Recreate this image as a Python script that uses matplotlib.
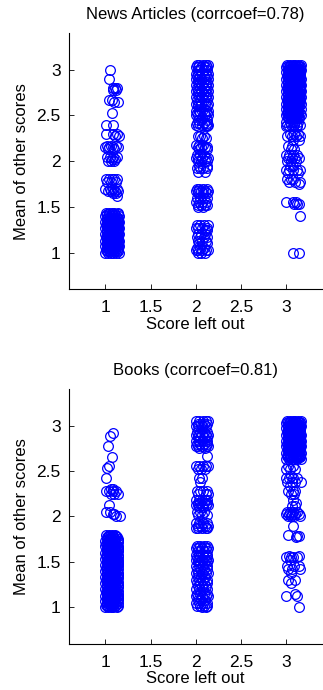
import matplotlib
matplotlib.use('Agg')
import matplotlib.pyplot as plt

plt.rcParams['font.family'] = ['Liberation Sans', 'DejaVu Sans']

# 各パネルのタイトル
titles = ['News Articles (corrcoef=0.78)', 'Books (corrcoef=0.81)']
xticks = [1, 1.5, 2, 2.5, 3]
xtick_labels = ['1', '1.5', '2', '2.5', '3']
yticks = [1, 1.5, 2, 2.5, 3]
ytick_labels = ['1', '1.5', '2', '2.5', '3']

# (mean of other scores, [score left out + jitter, ...])
news_c1 = [
    (3.00, [1.05]), (2.90, [1.04]),
    (2.80, [1.08, 1.11, 1.13]), (2.78, [1.09, 1.12]),
    (2.67, [1.04, 1.07]), (2.65, [1.10, 1.14]), (2.53, [1.07]),
    (2.40, [1.01, 1.09]), (2.30, [1.01, 1.08, 1.13]), (2.27, [1.11, 1.15]),
    (2.17, [1.02, 1.06, 1.12]), (2.15, [1.00, 1.04, 1.08, 1.14]),
    (2.13, [1.03, 1.10]), (2.05, [1.02, 1.05, 1.09, 1.13]),
    (2.02, [1.07, 1.11]), (2.00, [1.03, 1.06, 1.10]),
    (1.80, [1.01, 1.04, 1.07, 1.10, 1.13]), (1.77, [1.02, 1.06, 1.12]),
    (1.70, [1.00, 1.05, 1.08, 1.13]), (1.67, [1.03, 1.06, 1.11, 1.14]),
    (1.65, [1.09, 1.12]), (1.62, [1.13]),
    (1.43, [1.01, 1.04, 1.07, 1.10, 1.14]),
    (1.42, [1.015, 1.045, 1.075, 1.105, 1.135]),
    (1.40, [1.00, 1.03, 1.06, 1.09, 1.12, 1.15]),
    (1.38, [1.015, 1.045, 1.075, 1.105, 1.135]),
    (1.37, [1.02, 1.05, 1.08, 1.11, 1.14]),
    (1.35, [1.015, 1.045, 1.075, 1.105, 1.135]),
    (1.33, [1.00, 1.03, 1.06, 1.09, 1.12, 1.15]),
    (1.32, [1.015, 1.045, 1.075, 1.105, 1.135]),
    (1.30, [1.01, 1.04, 1.08, 1.11, 1.14]),
    (1.28, [1.015, 1.045, 1.075, 1.105, 1.135]),
    (1.27, [1.00, 1.03, 1.06, 1.10, 1.13, 1.15]),
    (1.25, [1.015, 1.045, 1.075, 1.105, 1.135]),
    (1.23, [1.02, 1.05, 1.08, 1.12, 1.14]),
    (1.22, [1.015, 1.045, 1.075, 1.105, 1.135]),
    (1.20, [1.00, 1.03, 1.07, 1.10, 1.13, 1.15]),
    (1.18, [1.015, 1.045, 1.075, 1.105, 1.135]),
    (1.17, [1.01, 1.05, 1.08, 1.11, 1.14]),
    (1.15, [1.015, 1.045, 1.075, 1.105, 1.135]),
    (1.13, [1.00, 1.03, 1.06, 1.09, 1.12, 1.15]),
    (1.12, [1.015, 1.045, 1.075, 1.105, 1.135]),
    (1.10, [1.02, 1.05, 1.08, 1.11, 1.14]),
    (1.08, [1.015, 1.045, 1.075, 1.105, 1.135]),
    (1.07, [1.00, 1.03, 1.07, 1.10, 1.13, 1.15]),
    (1.05, [1.015, 1.045, 1.075, 1.105, 1.135]),
    (1.03, [1.01, 1.04, 1.08, 1.11, 1.14]),
    (1.02, [1.015, 1.045, 1.075, 1.105, 1.135]),
    (1.00, [1.00, 1.03, 1.06, 1.09, 1.12, 1.15]),
]
news_c2 = [
    (3.05, [2.01, 2.04, 2.08, 2.11, 2.14]), (3.03, [2.00, 2.03, 2.06, 2.10, 2.13]),
    (3.00, [2.02, 2.05, 2.09, 2.12]), (2.95, [2.00, 2.03, 2.07, 2.11, 2.14]),
    (2.93, [2.01, 2.05, 2.09, 2.13]), (2.90, [2.00, 2.03, 2.06, 2.10, 2.14]),
    (2.87, [2.02, 2.05, 2.08, 2.12]), (2.83, [2.00, 2.04, 2.07, 2.11, 2.14]),
    (2.80, [2.01, 2.05, 2.09, 2.13]), (2.77, [2.00, 2.03, 2.06, 2.10, 2.14]),
    (2.73, [2.02, 2.05, 2.08, 2.12]), (2.70, [2.00, 2.04, 2.07, 2.11, 2.14]),
    (2.67, [2.01, 2.05, 2.09, 2.13]), (2.63, [2.00, 2.03, 2.06, 2.10, 2.14]),
    (2.60, [2.02, 2.05, 2.12]), (2.55, [2.00, 2.04, 2.07, 2.11, 2.14]),
    (2.53, [2.01, 2.05, 2.09, 2.13]), (2.50, [2.00, 2.03, 2.10, 2.14]),
    (2.45, [2.02, 2.06, 2.12]), (2.42, [2.01, 2.04, 2.09, 2.13]),
    (2.40, [2.00, 2.07, 2.11, 2.14]), (2.38, [2.03, 2.12]),
    (2.27, [2.02, 2.05, 2.09]), (2.25, [2.07, 2.11]),
    (2.18, [2.00, 2.04, 2.08]), (2.15, [2.02, 2.06, 2.10, 2.13]),
    (2.13, [2.04, 2.12]), (2.07, [2.01, 2.05, 2.09]),
    (2.03, [2.00, 2.03, 2.07, 2.11, 2.14]), (2.00, [2.02, 2.06, 2.10, 2.13]),
    (1.95, [2.04, 2.12]), (1.92, [2.01, 2.05, 2.08, 2.13]), (1.88, [2.03, 2.10]),
    (1.70, [2.01, 2.04, 2.08, 2.12]), (1.67, [2.00, 2.03, 2.06, 2.10, 2.14]),
    (1.65, [2.02, 2.08, 2.12]), (1.60, [2.01, 2.05, 2.09, 2.13]),
    (1.55, [2.00, 2.04, 2.07, 2.11]), (1.52, [2.02, 2.06, 2.10, 2.13]),
    (1.50, [2.03, 2.08]),
    (1.30, [2.01, 2.05, 2.09, 2.14]), (1.27, [2.00, 2.03, 2.07, 2.12]),
    (1.25, [2.10, 2.13]), (1.20, [2.02, 2.06, 2.10]),
    (1.17, [2.01, 2.05, 2.09, 2.13]), (1.13, [2.03, 2.07, 2.11]),
    (1.10, [2.04, 2.12]), (1.05, [2.01, 2.05, 2.09]),
    (1.03, [2.00, 2.03, 2.07, 2.11, 2.14]), (1.00, [2.02, 2.06, 2.10]),
]
news_c3 = [
    (3.05, [3.01, 3.04, 3.07, 3.10, 3.13, 3.16]), (3.04, [3.015, 3.045, 3.075, 3.105, 3.135, 3.155]),
    (3.03, [3.00, 3.03, 3.06, 3.09, 3.12, 3.15]), (3.01, [3.015, 3.045, 3.075, 3.105, 3.135, 3.155]),
    (3.00, [3.02, 3.05, 3.08, 3.11, 3.14, 3.16]), (2.98, [3.015, 3.045, 3.075, 3.105, 3.135, 3.155]),
    (2.97, [3.00, 3.03, 3.07, 3.10, 3.13]), (2.95, [3.015, 3.045, 3.075, 3.105, 3.135, 3.155]),
    (2.93, [3.01, 3.04, 3.08, 3.11, 3.15]), (2.92, [3.015, 3.045, 3.075, 3.105, 3.135, 3.155]),
    (2.90, [3.00, 3.03, 3.06, 3.09, 3.12, 3.16]), (2.88, [3.015, 3.045, 3.075, 3.105, 3.135, 3.155]),
    (2.87, [3.02, 3.05, 3.08, 3.11, 3.14]), (2.85, [3.015, 3.045, 3.075, 3.105, 3.135, 3.155]),
    (2.83, [3.00, 3.03, 3.07, 3.10, 3.13, 3.16]), (2.82, [3.015, 3.045, 3.075, 3.105, 3.135, 3.155]),
    (2.80, [3.01, 3.04, 3.08, 3.11, 3.15]), (2.78, [3.015, 3.045, 3.075, 3.105, 3.135, 3.155]),
    (2.77, [3.00, 3.03, 3.06, 3.09, 3.12, 3.16]), (2.75, [3.015, 3.045, 3.075, 3.105, 3.135, 3.155]),
    (2.73, [3.02, 3.05, 3.08, 3.11, 3.14]), (2.72, [3.015, 3.045, 3.075, 3.105, 3.135, 3.155]),
    (2.70, [3.00, 3.03, 3.07, 3.10, 3.13, 3.16]), (2.68, [3.015, 3.045, 3.075, 3.105, 3.135, 3.155]),
    (2.67, [3.01, 3.04, 3.08, 3.11, 3.15]), (2.65, [3.015, 3.045, 3.075, 3.105, 3.135, 3.155]),
    (2.63, [3.00, 3.03, 3.06, 3.09, 3.12, 3.16]), (2.62, [3.015, 3.045, 3.075, 3.105, 3.135]),
    (2.60, [3.02, 3.05, 3.08, 3.11, 3.14]), (2.58, [3.015, 3.045, 3.075, 3.105, 3.135]),
    (2.57, [3.00, 3.03, 3.07, 3.10, 3.13, 3.16]), (2.55, [3.015, 3.045, 3.075, 3.105, 3.135]),
    (2.53, [3.01, 3.04, 3.08, 3.11, 3.15]), (2.52, [3.015, 3.045, 3.075, 3.105, 3.135]),
    (2.50, [3.00, 3.03, 3.06, 3.09, 3.12, 3.16]), (2.48, [3.015, 3.045, 3.105, 3.135]),
    (2.47, [3.02, 3.05, 3.08, 3.11, 3.14]), (2.43, [3.00, 3.04, 3.07, 3.10, 3.13]),
    (2.40, [3.01, 3.05, 3.09, 3.12, 3.15]),
    (2.38, [3.00, 3.03, 3.07, 3.12]), (2.30, [3.04, 3.09, 3.13]),
    (2.27, [3.01, 3.06, 3.11, 3.15]), (2.23, [3.08, 3.14]),
    (2.17, [3.02, 3.06]), (2.13, [3.05, 3.09]),
    (2.07, [3.00, 3.03, 3.07, 3.12]), (2.03, [3.02, 3.06, 3.10, 3.14]),
    (2.00, [3.01, 3.05, 3.11]), (1.95, [3.04, 3.08]),
    (1.90, [3.00, 3.03, 3.07, 3.12, 3.15]), (1.87, [3.02, 3.13]),
    (1.80, [3.01, 3.05, 3.08]), (1.77, [3.03, 3.10, 3.15]), (1.75, [3.14]),
    (1.55, [3.00, 3.07, 3.11]), (1.53, [3.09, 3.12, 3.14]),
    (1.40, [3.15]), (1.00, [3.08, 3.14]),
]
books_c1 = [
    (2.92, [1.09]), (2.89, [1.05]), (2.78, [1.03]), (2.65, [1.07]),
    (2.55, [1.04]), (2.53, [1.02]), (2.42, [1.01]),
    (2.30, [1.06, 1.09]), (2.28, [1.01, 1.04, 1.08, 1.12]), (2.25, [1.06, 1.10, 1.14]),
    (2.13, [1.04]), (2.05, [1.01, 1.05]), (2.03, [1.08, 1.10]), (2.00, [1.12, 1.16]),
    (1.80, [1.01, 1.04, 1.07, 1.11]), (1.78, [1.025, 1.055, 1.085, 1.115]),
    (1.77, [1.02, 1.06, 1.09, 1.13]), (1.75, [1.015, 1.045, 1.075, 1.105, 1.135]),
    (1.73, [1.00, 1.03, 1.07, 1.10, 1.14]), (1.72, [1.015, 1.045, 1.075, 1.105, 1.135]),
    (1.70, [1.01, 1.05, 1.08, 1.12]), (1.68, [1.015, 1.045, 1.075, 1.105, 1.135]),
    (1.67, [1.00, 1.03, 1.06, 1.09, 1.13]), (1.65, [1.015, 1.045, 1.075, 1.105, 1.135]),
    (1.63, [1.02, 1.05, 1.08, 1.11, 1.14]), (1.62, [1.015, 1.045, 1.075, 1.105, 1.135]),
    (1.60, [1.00, 1.03, 1.07, 1.10, 1.13]), (1.58, [1.015, 1.045, 1.075, 1.105, 1.135]),
    (1.57, [1.01, 1.05, 1.08, 1.12]), (1.55, [1.015, 1.045, 1.075, 1.105, 1.135]),
    (1.53, [1.00, 1.03, 1.06, 1.09, 1.13]), (1.52, [1.015, 1.045, 1.075, 1.105, 1.135]),
    (1.50, [1.02, 1.05, 1.08, 1.11, 1.14]), (1.48, [1.015, 1.045, 1.075, 1.105, 1.135]),
    (1.47, [1.00, 1.03, 1.07, 1.10, 1.13]), (1.45, [1.015, 1.045, 1.075, 1.105, 1.135]),
    (1.43, [1.01, 1.05, 1.08, 1.12]), (1.42, [1.015, 1.045, 1.075, 1.105, 1.135]),
    (1.40, [1.00, 1.03, 1.06, 1.09, 1.13]), (1.38, [1.015, 1.045, 1.075, 1.105, 1.135]),
    (1.37, [1.02, 1.05, 1.08, 1.11, 1.14]), (1.35, [1.015, 1.045, 1.075, 1.105, 1.135]),
    (1.33, [1.00, 1.03, 1.07, 1.10, 1.13]), (1.32, [1.015, 1.045, 1.075, 1.105, 1.135]),
    (1.30, [1.01, 1.05, 1.08, 1.12]), (1.28, [1.015, 1.045, 1.075, 1.105, 1.135]),
    (1.27, [1.00, 1.03, 1.06, 1.09, 1.13]), (1.25, [1.015, 1.045, 1.075, 1.105, 1.135]),
    (1.23, [1.02, 1.05, 1.08, 1.11, 1.14]), (1.22, [1.015, 1.045, 1.075, 1.105, 1.135]),
    (1.20, [1.00, 1.03, 1.07, 1.10, 1.13]), (1.18, [1.015, 1.045, 1.075, 1.105, 1.135]),
    (1.17, [1.01, 1.05, 1.08, 1.12]), (1.15, [1.015, 1.045, 1.075, 1.105, 1.135]),
    (1.13, [1.00, 1.03, 1.06, 1.09, 1.13]), (1.12, [1.015, 1.045, 1.075, 1.105, 1.135]),
    (1.10, [1.02, 1.05, 1.08, 1.11, 1.14]), (1.08, [1.015, 1.045, 1.075, 1.105, 1.135]),
    (1.07, [1.00, 1.03, 1.07, 1.10, 1.13]), (1.05, [1.015, 1.045, 1.075, 1.105, 1.135]),
    (1.03, [1.01, 1.05, 1.08, 1.12]), (1.02, [1.015, 1.045, 1.075, 1.105, 1.135]),
    (1.00, [1.00, 1.03, 1.06, 1.09, 1.13]),
]
books_c2 = [
    (3.05, [2.00, 2.04, 2.08, 2.11, 2.14]), (3.02, [2.02, 2.06, 2.09, 2.13]),
    (3.00, [2.00, 2.03, 2.07, 2.11]), (2.93, [2.01, 2.05, 2.09, 2.13]),
    (2.90, [2.00, 2.03, 2.07, 2.11, 2.14]), (2.87, [2.02, 2.05, 2.09, 2.12]),
    (2.83, [2.00, 2.04, 2.08, 2.13]), (2.80, [2.01, 2.05, 2.09, 2.12]),
    (2.77, [2.00, 2.03, 2.07, 2.11, 2.14]), (2.75, [2.04, 2.10]),
    (2.67, [2.12]), (2.55, [2.00, 2.04, 2.08, 2.11, 2.14]),
    (2.52, [2.02, 2.06, 2.10]), (2.42, [2.04, 2.07]), (2.38, [2.05]),
    (2.28, [2.01, 2.05, 2.08, 2.13]), (2.25, [2.03, 2.11, 2.14]),
    (2.18, [2.00, 2.04, 2.07, 2.10, 2.13]), (2.15, [2.02, 2.05, 2.09, 2.12]),
    (2.13, [2.00, 2.03, 2.07, 2.11, 2.14]), (2.10, [2.04, 2.08]),
    (2.05, [2.01, 2.05, 2.09]), (2.02, [2.03, 2.07, 2.12]),
    (1.93, [2.00, 2.04, 2.08, 2.12]), (1.90, [2.02, 2.06, 2.10, 2.14]),
    (1.87, [2.00, 2.03, 2.07, 2.11, 2.13]),
    (1.68, [2.01, 2.05, 2.09, 2.13]), (1.65, [2.00, 2.03, 2.07, 2.11, 2.14]),
    (1.62, [2.02, 2.05, 2.09, 2.12]), (1.58, [2.00, 2.04, 2.08, 2.13]),
    (1.55, [2.01, 2.05, 2.09, 2.12]), (1.52, [2.00, 2.03, 2.07, 2.11, 2.14]),
    (1.50, [2.02, 2.05, 2.09, 2.12]), (1.45, [2.00, 2.04, 2.08, 2.13]),
    (1.42, [2.01, 2.05, 2.09, 2.12]), (1.38, [2.00, 2.03, 2.07, 2.11, 2.14]),
    (1.33, [2.02, 2.06, 2.10]), (1.30, [2.00, 2.04, 2.08, 2.13]),
    (1.27, [2.01, 2.05, 2.09, 2.12]), (1.23, [2.03, 2.07, 2.11]),
    (1.20, [2.00, 2.04, 2.08, 2.13]), (1.15, [2.01, 2.05, 2.09, 2.12]),
    (1.13, [2.00, 2.03, 2.07, 2.11, 2.14]), (1.08, [2.02, 2.06, 2.10]),
    (1.05, [2.00, 2.04, 2.08, 2.13]), (1.02, [2.01, 2.05, 2.09, 2.12]),
    (1.00, [2.07, 2.11]),
]
books_c3 = [
    (3.05, [3.01, 3.04, 3.07, 3.10, 3.13, 3.16]), (3.04, [3.015, 3.045, 3.075, 3.105, 3.135, 3.155]),
    (3.03, [3.00, 3.03, 3.06, 3.09, 3.12, 3.15]), (3.01, [3.015, 3.045, 3.075, 3.105, 3.135, 3.155]),
    (3.00, [3.02, 3.05, 3.08, 3.11, 3.14, 3.16]), (2.98, [3.015, 3.045, 3.075, 3.105, 3.135, 3.155]),
    (2.97, [3.00, 3.03, 3.07, 3.10, 3.13]), (2.95, [3.015, 3.045, 3.075, 3.105, 3.135, 3.155]),
    (2.93, [3.01, 3.04, 3.08, 3.11, 3.15]), (2.92, [3.015, 3.045, 3.075, 3.105, 3.135, 3.155]),
    (2.90, [3.00, 3.03, 3.06, 3.09, 3.12, 3.16]), (2.88, [3.015, 3.045, 3.075, 3.105, 3.135, 3.155]),
    (2.87, [3.02, 3.05, 3.08, 3.11, 3.14]), (2.85, [3.015, 3.045, 3.075, 3.105, 3.135, 3.155]),
    (2.83, [3.00, 3.03, 3.07, 3.10, 3.13, 3.16]), (2.82, [3.015, 3.045, 3.075, 3.105, 3.135, 3.155]),
    (2.80, [3.01, 3.04, 3.08, 3.11, 3.15]), (2.78, [3.015, 3.045, 3.075, 3.105, 3.135, 3.155]),
    (2.77, [3.00, 3.03, 3.06, 3.09, 3.12, 3.16]), (2.75, [3.015, 3.045, 3.075, 3.105, 3.135, 3.155]),
    (2.73, [3.02, 3.05, 3.08, 3.11, 3.14]), (2.72, [3.015, 3.045, 3.075, 3.105, 3.135, 3.155]),
    (2.70, [3.00, 3.03, 3.07, 3.10, 3.13, 3.16]), (2.68, [3.015, 3.045, 3.075, 3.105, 3.135, 3.155]),
    (2.67, [3.01, 3.04, 3.08, 3.11, 3.15]), (2.65, [3.015, 3.045, 3.075, 3.105, 3.135, 3.155]),
    (2.63, [3.00, 3.03, 3.06, 3.09, 3.12, 3.16]),
    (2.55, [3.02, 3.07]), (2.52, [3.00, 3.04, 3.10]), (2.45, [3.05]),
    (2.42, [3.00, 3.03, 3.08, 3.12]), (2.38, [3.01, 3.06, 3.10, 3.16]),
    (2.33, [3.04]), (2.28, [3.02, 3.07, 3.10]), (2.25, [3.05, 3.09]),
    (2.18, [3.08]), (2.15, [3.11]), (2.12, [3.06, 3.10]),
    (2.05, [3.01, 3.04, 3.08, 3.12]), (2.03, [3.00, 3.03, 3.06, 3.10, 3.14]),
    (2.00, [3.02, 3.05, 3.09, 3.15]), (1.90, [3.07]),
    (1.80, [3.02]), (1.78, [3.12, 3.14]), (1.77, [3.11]),
    (1.57, [3.03, 3.14]), (1.55, [3.00, 3.05, 3.08, 3.12]), (1.52, [3.04]),
    (1.45, [3.01, 3.09, 3.14]), (1.42, [3.02, 3.06, 3.15]), (1.38, [3.05]),
    (1.30, [3.02, 3.10]), (1.27, [3.05]),
    (1.15, [3.10]), (1.13, [3.00, 3.12]), (1.00, [3.14]),
]

panels = [[news_c1, news_c2, news_c3], [books_c1, books_c2, books_c3]]


def unpack(groups):
    xs, ys = [], []
    for y, xlist in groups:
        for x in xlist:
            xs.append(x)
            ys.append(y)
    return xs, ys


fig = plt.figure(figsize=(3.23, 6.9), dpi=100)
axes_rects = [
    [0.214, 0.581, 0.784, 0.371],
    [0.214, 0.067, 0.784, 0.369],
]

for rect, title, cols in zip(axes_rects, titles, panels):
    ax = fig.add_axes(rect)
    for groups in cols:
        xs, ys = unpack(groups)
        ax.plot(xs, ys, 'o', markerfacecolor='none', markeredgecolor=(0, 0, 1),
                markersize=7, markeredgewidth=0.9)
    ax.set_xlim(0.6, 3.4)
    ax.set_ylim(0.6, 3.4)
    ax.set_xticks(xticks)
    ax.set_xticklabels(xtick_labels)
    ax.set_yticks(yticks)
    ax.set_yticklabels(ytick_labels)
    ax.spines['top'].set_visible(False)
    ax.spines['right'].set_visible(False)
    ax.spines['left'].set_linewidth(0.8)
    ax.spines['bottom'].set_linewidth(0.8)
    ax.tick_params(direction='in', length=3.5, width=0.6, labelsize=12.5)
    ax.tick_params(axis='x', pad=8)
    ax.tick_params(axis='y', pad=6)
    ax.set_xlabel('Score left out', fontsize=12, labelpad=1)
    ax.set_ylabel('Mean of other scores', fontsize=12, labelpad=5)
    ax.set_title(title, fontsize=12, pad=10)

fig.savefig('out.png', dpi=100)
